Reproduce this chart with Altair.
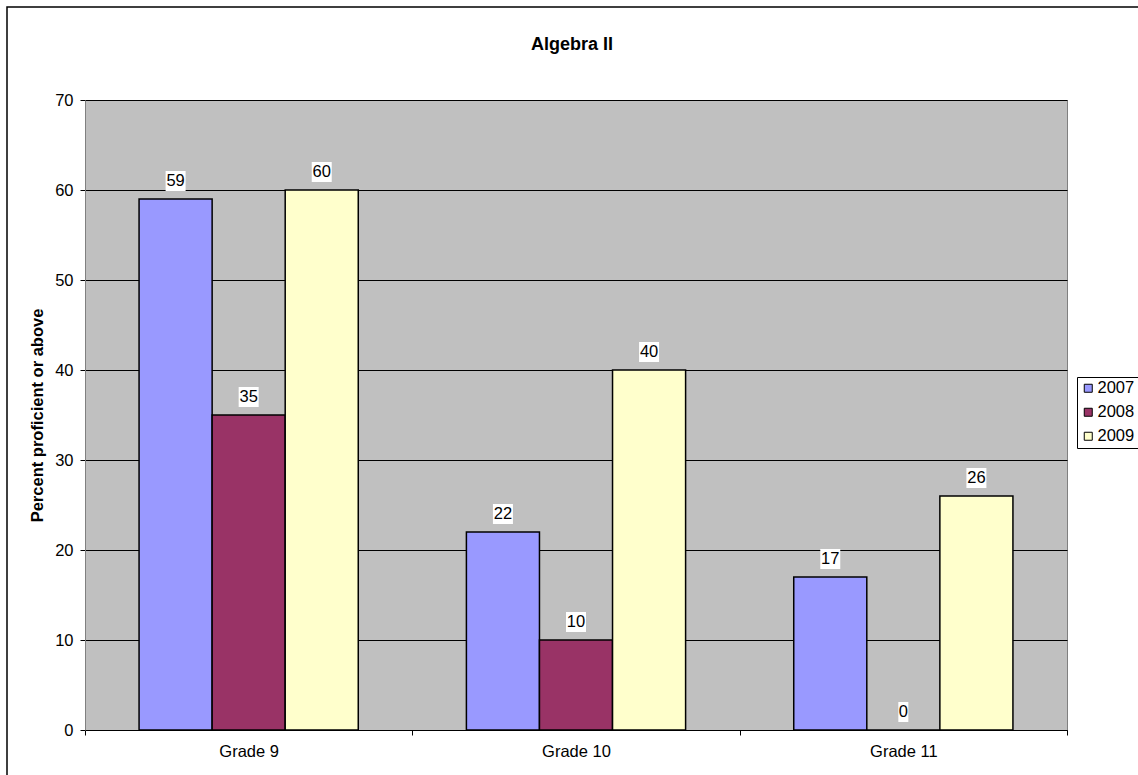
import altair as alt
import pandas as pd

title_text = "Algebra II"
grades = ["Grade 9", "Grade 10", "Grade 11"]
years = ["2007", "2008", "2009"]
values_2007 = [59, 22, 17]
values_2008 = [35, 10, 0]
values_2009 = [60, 40, 26]
colors = ["#9999FF", "#993366", "#FFFFCC"]
y_ticks = [0, 10, 20, 30, 40, 50, 60, 70]

rows = []
for yr, vals in zip(years, [values_2007, values_2008, values_2009]):
    for g, v in zip(grades, vals):
        rows.append({"grade": g, "year": yr, "value": v, "label": str(v),
                     "digits": "two" if v >= 10 else "one"})
df = pd.DataFrame(rows)

FONT = "Liberation Sans"
W, H = 982, 630

x_enc = alt.X("grade:N", sort=grades, title=None,
              scale=alt.Scale(paddingInner=0, paddingOuter=0),
              axis=alt.Axis(labelAngle=0, tickBand="extent", domainColor="black",
                            tickColor="black", tickSize=5, labelPadding=8,
                            labelFontSize=16.5, labelColor="black", grid=False))
xo_enc = alt.XOffset("year:N", sort=years,
                     scale=alt.Scale(paddingOuter=0.74, paddingInner=0))
y_enc = alt.Y("value:Q", title="Percent proficient or above",
              scale=alt.Scale(domain=[0, 70], nice=False),
              axis=alt.Axis(values=y_ticks, grid=True, gridColor="black",
                            gridWidth=1, gridOpacity=1, domainColor="#808080",
                            tickColor="black", tickSize=5, labelPadding=7,
                            labelFontSize=16.5, labelColor="black",
                            titleFontSize=16.5, titleFontWeight="bold",
                            titleColor="black", titlePadding=9))

base = alt.Chart(df)

bars = base.mark_bar(stroke="black", strokeWidth=1.5).encode(
    x=x_enc, xOffset=xo_enc, y=y_enc,
    color=alt.Color("year:N", sort=years,
                    scale=alt.Scale(domain=years, range=colors),
                    legend=alt.Legend(title=None, orient="none", legendX=992,
                                      legendY=277, symbolType="square",
                                      symbolSize=64, symbolStrokeColor="black",
                                      symbolStrokeWidth=1, labelFontSize=16.5,
                                      labelColor="black", labelFont=FONT,
                                      strokeColor="black", fillColor="white",
                                      padding=3, rowPadding=7, labelOffset=1,
                                      offset=0)),
)

boxes = base.mark_point(filled=True, fill="white", opacity=1, strokeWidth=0,
                        yOffset=-18).encode(
    x=alt.X("grade:N", sort=grades), xOffset=xo_enc, y=alt.Y("value:Q"),
    shape=alt.Shape("digits:N", legend=None,
                    scale=alt.Scale(domain=["one", "two"],
                                    range=["M-0.5,-1L0.5,-1L0.5,1L-0.5,1Z",
                                           "M-1,-1L1,-1L1,1L-1,1Z"])),
    size=alt.value(400),
)

labels = base.mark_text(dy=-18, fontSize=16.5, baseline="middle", color="black",
                        font=FONT).encode(
    x=alt.X("grade:N", sort=grades), xOffset=xo_enc, y=alt.Y("value:Q"),
    text="label:N",
)

deco = alt.Chart(alt.Data(values=[{"t": title_text}]))

frame = deco.mark_rect(filled=False, stroke="black", strokeWidth=1.5).encode(
    x=alt.value(-78), x2=alt.value(W + 100), y=alt.value(-93), y2=alt.value(H + 100))

title = deco.mark_text(fontSize=18, fontWeight="bold", font=FONT, color="black",
                       baseline="alphabetic", align="center").encode(
    x=alt.value(W / 2 - 4), y=alt.value(-50), text="t:N")

chart = alt.layer(frame, bars, boxes, labels, title).properties(
    width=W, height=H,
    autosize=alt.AutoSizeParams(type="none"),
    padding={"left": 85, "top": 100, "right": 71, "bottom": 45},
).configure(font=FONT, background="white").configure_view(
    fill="#C0C0C0", stroke="#808080", strokeWidth=1
).configure_axis(labelFont=FONT, titleFont=FONT)

chart.save("out.html", embed_options={"renderer": "svg", "actions": False})
